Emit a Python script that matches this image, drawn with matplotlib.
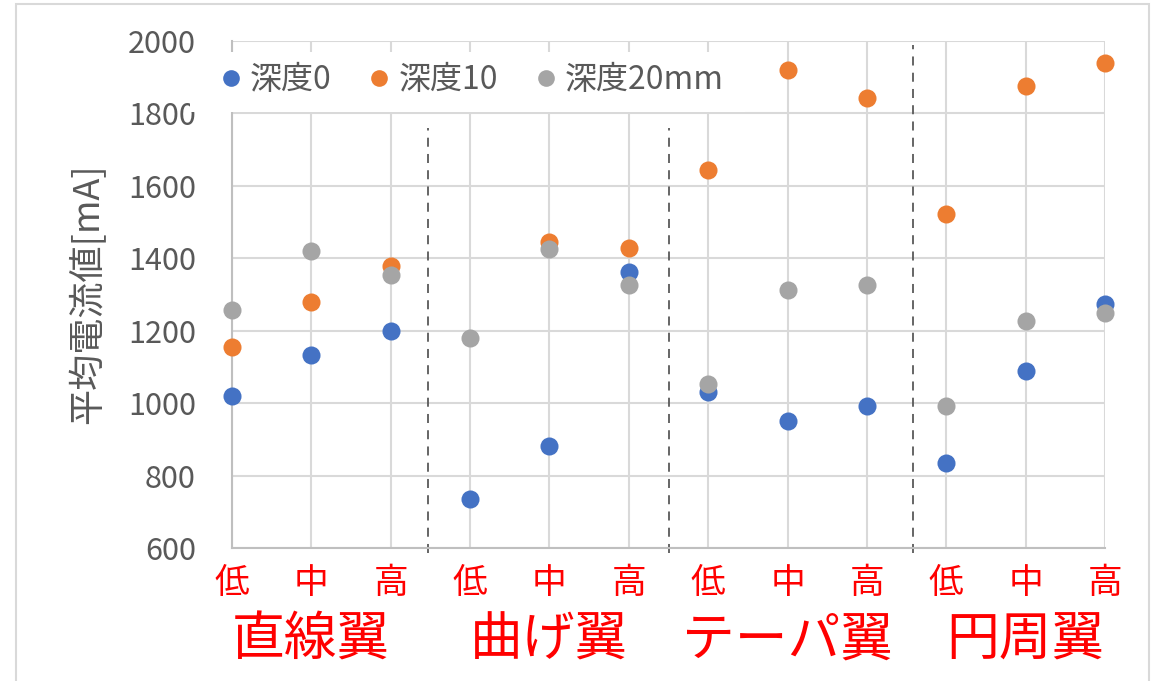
import numpy as np
import matplotlib
matplotlib.use("Agg")
import matplotlib.pyplot as plt
from matplotlib.lines import Line2D
from matplotlib.patches import Rectangle

plt.rcParams['font.family'] = ['Noto Sans CJK JP', 'DejaVu Sans']

# ---- data ----
levels = ["低", "中", "高"]
groups = ["直線翼", "曲げ翼", "テーパ翼", "円周翼"]
series_names = ["深度0", "深度10", "深度20mm"]
depth0 = [1020, 1132, 1199, 734, 882, 1362, 1031, 950, 991, 834, 1088, 1275]
depth10 = [1156, 1279, 1378, np.nan, 1445, 1428, 1643, 1921, 1843, 1523, 1877, 1939]
depth20 = [1258, 1421, 1353, 1181, 1427, 1325, 1054, 1313, 1325, 992, 1228, 1250]
yticks = [600, 800, 1000, 1200, 1400, 1600, 1800, 2000]
ylabel = "平均電流値[mA]"
separators = [3.47, 6.50, 9.58]
separator_tops = [1760, 1760, 1990]

colors = ["#4472C4", "#ED7D31", "#A5A5A5"]
grid_c = "#D9D9D9"
text_c = "#595959"
W, H = 1161, 681

fig = plt.figure(figsize=(W / 100, H / 100), dpi=100)
fig.patch.set_facecolor("white")
# outer chart-area border
fig.patches.append(Rectangle((16 / W, -0.01), (1149 - 16) / W, 1.01 - 4 / H,
                             transform=fig.transFigure, fill=False,
                             edgecolor="#D9D9D9", linewidth=1.5, zorder=1))

ax = fig.add_axes([232 / W, 1 - 548 / H, (1105 - 232) / W, (548 - 41) / H])
x = np.arange(1, len(depth0) + 1)

ax.set_xlim(1, 12)
ax.set_ylim(600, 2000)
ax.set_yticks(yticks)
ax.set_xticks(x)
ax.set_xticklabels([])
ax.grid(True, color=grid_c, linewidth=1.5, zorder=0)
ax.set_axisbelow(True)
for s in ["top", "right"]:
    ax.spines[s].set_visible(False)
for s in ["left", "bottom"]:
    ax.spines[s].set_color("#BFBFBF")
    ax.spines[s].set_linewidth(1.5)
ax.tick_params(axis="y", length=0, labelsize=22, labelcolor=text_c, pad=26)
ax.tick_params(axis="x", length=0, pad=0)

for vals, c in zip([depth0, depth10, depth20], colors):
    ax.plot(x, vals, linestyle="none", marker="o", markersize=13,
            color=c, markeredgewidth=0, zorder=3, clip_on=False)

# dashed group separators
for sx, top in zip(separators, separator_tops):
    ax.plot([sx, sx], [585, top], color="#595959", linewidth=1.3,
            linestyle=(0, (5, 4)), clip_on=False, zorder=2)

fig.text(88 / W, 1 - 294 / H, ylabel, rotation=90, ha="center", va="center",
         fontsize=26, color=text_c)

# red category labels
for i, xi in enumerate(x):
    ax.text(xi, 1 - (583 - 41) / 507, levels[i % 3], transform=ax.get_xaxis_transform(),
            ha="center", va="center", color="#FF0000", fontsize=25)
for g, name in enumerate(groups):
    xc = x[g * 3 + 1]
    ax.text(xc, 1 - (640 - 41) / 507, name, transform=ax.get_xaxis_transform(),
            ha="center", va="center", color="#FF0000", fontsize=38)

# legend background (covers part of the 1800 label, as in the original)
fig.patches.append(Rectangle((190 / W, 1 - 112 / H), (745 - 190) / W, (112 - 52) / H,
                             transform=fig.transFigure, facecolor="white",
                             edgecolor="none", zorder=4))
handles = [Line2D([], [], linestyle="none", marker="o", markersize=12,
                  color=c, markeredgewidth=0) for c in colors]
leg = fig.legend(handles, series_names, loc="center left",
                 bbox_to_anchor=(221 / W, 1 - 80 / H), bbox_transform=fig.transFigure,
                 ncol=3, frameon=False, fontsize=23,
                 handlelength=0.6, handletextpad=0.3, columnspacing=1.2,
                 borderpad=0, borderaxespad=0)
for t in leg.get_texts():
    t.set_color(text_c)
leg.set_zorder(5)

fig.savefig("out.png", dpi=100, facecolor="white")
